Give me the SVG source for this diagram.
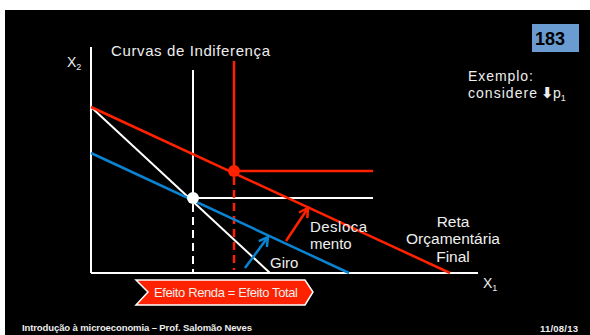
<svg xmlns="http://www.w3.org/2000/svg" width="590" height="335" viewBox="0 0 590 335">
<defs>
<style>
.t{font-family:"Liberation Sans",Arial,sans-serif;fill:#eeeeee;}
.w{stroke:#ffffff;stroke-width:2;fill:none;}
.r{stroke:#ff2200;stroke-width:2.5;fill:none;}
.b{stroke:#0a84d2;stroke-width:2.5;fill:none;}
</style>
<marker id="ar" viewBox="0 0 10 10" refX="8" refY="5" markerWidth="5" markerHeight="5" orient="auto" markerUnits="strokeWidth">
<path d="M1,1 L8,5 L1,9" fill="none" stroke="#ff2200" stroke-width="2"/>
</marker>
<marker id="ab" viewBox="0 0 10 10" refX="8" refY="5" markerWidth="5" markerHeight="5" orient="auto" markerUnits="strokeWidth">
<path d="M1,1 L8,5 L1,9" fill="none" stroke="#0a84d2" stroke-width="2"/>
</marker>
</defs>
<rect x="0" y="0" width="590" height="335" fill="#ffffff"/>
<rect x="5" y="10" width="585" height="325" fill="#000000"/>

<g id="connectors">
<line class="w" x1="91" y1="47" x2="91" y2="273"/>
<line class="w" x1="91" y1="273" x2="478" y2="273"/>
<line class="w" x1="193" y1="70" x2="193" y2="198"/>
<line class="w" x1="193" y1="198" x2="373" y2="198"/>
<line class="w" x1="193" y1="204" x2="193" y2="273" stroke-dasharray="8,5"/>
<line class="r" x1="234" y1="61" x2="234" y2="171"/>
<line class="r" x1="234" y1="171" x2="373" y2="171"/>
<line class="r" x1="234" y1="177" x2="234" y2="270" stroke-dasharray="8,5"/>
<line class="w" x1="91" y1="107" x2="270" y2="273" stroke-width="2.5"/>
<line class="b" x1="91" y1="153" x2="349" y2="273"/>
<line class="r" x1="91" y1="107" x2="450" y2="273"/>
<line class="b" x1="245" y1="268" x2="268" y2="237" marker-end="url(#ab)"/>
<line class="r" x1="286" y1="241" x2="308" y2="208" marker-end="url(#ar)"/>
</g>

<g id="point-initial"><circle cx="193" cy="198" r="6" fill="#ffffff"/></g>
<g id="point-final"><circle cx="234" cy="171" r="6" fill="#ff2200"/></g>

<g id="labels">
<text class="t" x="111" y="56" font-size="15" textLength="159" lengthAdjust="spacing">Curvas de Indiferença</text>
<text class="t" x="67" y="67" font-size="14">X<tspan font-size="9" dy="3">2</tspan></text>
<text class="t" x="483" y="288" font-size="14">X<tspan font-size="9" dy="3">1</tspan></text>
<text class="t" x="270" y="268" font-size="15">Giro</text>
<text class="t" x="310" y="232" font-size="15" textLength="57" lengthAdjust="spacing">Desloca</text>
<text class="t" x="310" y="249" font-size="15">mento</text>
<text class="t" x="453" y="227" font-size="15.5" text-anchor="middle">Reta</text>
<text class="t" x="453" y="244" font-size="15.5" text-anchor="middle">Orçamentária</text>
<text class="t" x="453" y="262" font-size="15.5" text-anchor="middle">Final</text>
<text class="t" x="468" y="81" font-size="14" textLength="65" lengthAdjust="spacing">Exemplo:</text>
<text class="t" x="468" y="98" font-size="14"><tspan textLength="69" lengthAdjust="spacing">considere</tspan><tspan x="541" font-family="DejaVu Sans,sans-serif" font-weight="bold" font-size="15">⬇</tspan><tspan x="553">p</tspan><tspan font-size="9" dy="3">1</tspan></text>
</g>

<g id="slide-number">
<rect x="532" y="24" width="47" height="28" fill="#6a9bd1"/>
<text x="550" y="44.5" font-family="Liberation Sans,Arial,sans-serif" font-size="18" font-weight="bold" fill="#000000" text-anchor="middle">183</text>
</g>

<g id="effect-label">
<path d="M136,280 L305,280 L313,292 L305,305 L136,305 L148,292 Z" fill="#ff2200" stroke="#ffffff" stroke-width="1.5"/>
<text class="t" x="154" y="297" font-size="13" fill="#ffffff" textLength="144" lengthAdjust="spacing">Efeito Renda = Efeito Total</text>
</g>

<g id="footer">
<text class="t" x="22" y="331" font-size="9.5" font-weight="bold" textLength="230" lengthAdjust="spacing">Introdução à microeconomia – Prof. Salomão Neves</text>
<text class="t" x="540" y="332" font-size="9.5" font-weight="bold" textLength="38" lengthAdjust="spacing">11/08/13</text>
</g>
</svg>
